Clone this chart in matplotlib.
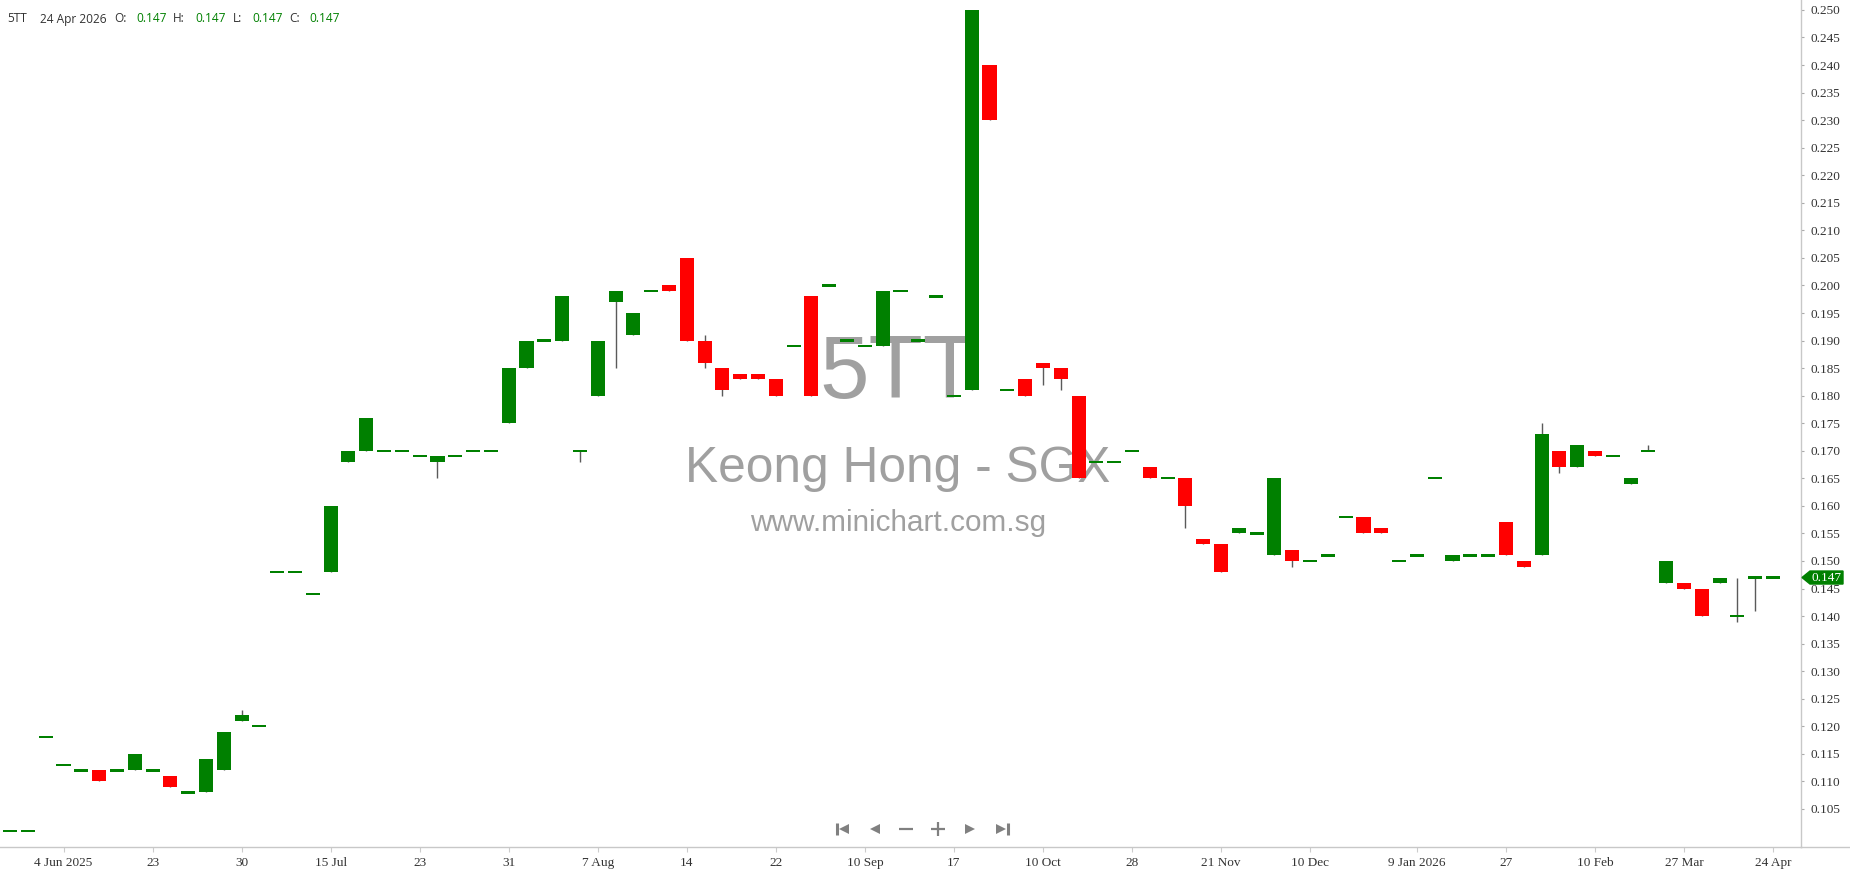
import matplotlib
matplotlib.use('Agg')
import matplotlib.pyplot as plt
from matplotlib.patches import Polygon
from matplotlib.lines import Line2D
import numpy as np

# daily OHLC, Keong Hong (5TT), one entry per traded day
opens = [0.101, 0.101, 0.118, 0.113, 0.112, 0.112, 0.112, 0.112, 0.112, 0.111,
         0.108, 0.108, 0.112, 0.121, 0.120, 0.148, 0.148, 0.144, 0.148, 0.168,
         0.170, 0.170, 0.170, 0.169, 0.168, 0.169, 0.170, 0.170, 0.175, 0.185,
         0.190, 0.190, 0.170, 0.180, 0.197, 0.191, 0.199, 0.200, 0.205, 0.190,
         0.185, 0.184, 0.184, 0.183, 0.189, 0.198, 0.200, 0.190, 0.189, 0.189,
         0.199, 0.190, 0.198, 0.180, 0.181, 0.240, 0.181, 0.183, 0.186, 0.185,
         0.180, 0.168, 0.168, 0.170, 0.167, 0.165, 0.165, 0.154, 0.153, 0.155,
         0.155, 0.151, 0.152, 0.150, 0.151, 0.158, 0.158, 0.156, 0.150, 0.151,
         0.165, 0.150, 0.151, 0.151, 0.157, 0.150, 0.151, 0.170, 0.167, 0.170,
         0.169, 0.164, 0.170, 0.146, 0.146, 0.145, 0.146, 0.140, 0.147, 0.147]
highs = [0.101, 0.101, 0.118, 0.113, 0.112, 0.112, 0.112, 0.115, 0.112, 0.111,
         0.108, 0.114, 0.119, 0.123, 0.120, 0.148, 0.148, 0.144, 0.160, 0.170,
         0.176, 0.170, 0.170, 0.169, 0.169, 0.169, 0.170, 0.170, 0.185, 0.190,
         0.190, 0.198, 0.170, 0.190, 0.199, 0.195, 0.199, 0.200, 0.205, 0.191,
         0.185, 0.184, 0.184, 0.183, 0.189, 0.198, 0.200, 0.190, 0.189, 0.199,
         0.199, 0.190, 0.198, 0.180, 0.250, 0.240, 0.181, 0.183, 0.186, 0.185,
         0.180, 0.168, 0.168, 0.170, 0.167, 0.165, 0.165, 0.154, 0.153, 0.156,
         0.155, 0.165, 0.152, 0.150, 0.151, 0.158, 0.158, 0.156, 0.150, 0.151,
         0.165, 0.151, 0.151, 0.151, 0.157, 0.150, 0.175, 0.170, 0.171, 0.170,
         0.169, 0.165, 0.171, 0.150, 0.146, 0.145, 0.147, 0.147, 0.147, 0.147]
lows = [0.101, 0.101, 0.118, 0.113, 0.112, 0.110, 0.112, 0.112, 0.112, 0.109,
        0.108, 0.108, 0.112, 0.121, 0.120, 0.148, 0.148, 0.144, 0.148, 0.168,
        0.170, 0.170, 0.170, 0.169, 0.165, 0.169, 0.170, 0.170, 0.175, 0.185,
        0.190, 0.190, 0.168, 0.180, 0.185, 0.191, 0.199, 0.199, 0.190, 0.185,
        0.180, 0.183, 0.183, 0.180, 0.189, 0.180, 0.200, 0.190, 0.189, 0.189,
        0.199, 0.190, 0.198, 0.180, 0.181, 0.230, 0.181, 0.180, 0.182, 0.181,
        0.165, 0.168, 0.168, 0.170, 0.165, 0.165, 0.156, 0.153, 0.148, 0.155,
        0.155, 0.151, 0.149, 0.150, 0.151, 0.158, 0.155, 0.155, 0.150, 0.151,
        0.165, 0.150, 0.151, 0.151, 0.151, 0.149, 0.151, 0.166, 0.167, 0.169,
        0.169, 0.164, 0.170, 0.146, 0.145, 0.140, 0.146, 0.139, 0.141, 0.147]
closes = [0.101, 0.101, 0.118, 0.113, 0.112, 0.110, 0.112, 0.115, 0.112, 0.109,
          0.108, 0.114, 0.119, 0.122, 0.120, 0.148, 0.148, 0.144, 0.160, 0.170,
          0.176, 0.170, 0.170, 0.169, 0.169, 0.169, 0.170, 0.170, 0.185, 0.190,
          0.190, 0.198, 0.170, 0.190, 0.199, 0.195, 0.199, 0.199, 0.190, 0.186,
          0.181, 0.183, 0.183, 0.180, 0.189, 0.180, 0.200, 0.190, 0.189, 0.199,
          0.199, 0.190, 0.198, 0.180, 0.250, 0.230, 0.181, 0.180, 0.185, 0.183,
          0.165, 0.168, 0.168, 0.170, 0.165, 0.165, 0.160, 0.153, 0.148, 0.156,
          0.155, 0.165, 0.150, 0.150, 0.151, 0.158, 0.155, 0.155, 0.150, 0.151,
          0.165, 0.151, 0.151, 0.151, 0.151, 0.149, 0.173, 0.167, 0.171, 0.169,
          0.169, 0.165, 0.170, 0.150, 0.145, 0.140, 0.147, 0.140, 0.147, 0.147]

tick_idx = [3, 8, 13, 18, 23, 28, 33, 38, 43, 48, 53, 58, 63, 68, 73, 79, 84, 89, 94, 99]
tick_labels = ['4 Jun 2025', '23', '30', '15 Jul', '23', '31', '7 Aug', '14', '22', '10 Sep',
               '17', '10 Oct', '28', '21 Nov', '10 Dec', '9 Jan 2026', '27', '10 Feb', '27 Mar', '24 Apr']
y_ticks = [0.105 + 0.005 * i for i in range(30)]

symbol = '5TT'
name = 'Keong Hong - SGX'
site = 'www.minichart.com.sg'
last_date = '24 Apr 2026'

W, H = 1850, 874
GREEN = '#008000'
RED = '#ff0000'
AXC = '#c8c8c8'

fig = plt.figure(figsize=(W / 100, H / 100), dpi=100)
ax_l, ax_b, ax_w, ax_h = 0, 1 - 847 / H, 1801 / W, 847 / H
ax = fig.add_axes([ax_l, ax_b, ax_w, ax_h])

ymin, ymax = 0.0981, 0.2518
ax.set_xlim(-0.567, 100.57)
ax.set_ylim(ymin, ymax)

o = np.array(opens)
c = np.array(closes)
x = np.arange(len(o))
up = c >= o
cols = np.where(up, GREEN, RED)
body_lo = np.minimum(o, c)
body_h = np.abs(c - o)
flat = body_h < 1e-9
body_lo = np.where(flat, o - 0.0002, body_lo)
body_h = np.where(flat, 0.0004, body_h)

ax.vlines(x, lows, highs, color='#5a5a5a', lw=1, zorder=2)
ax.bar(x, body_h, bottom=body_lo, width=0.79, color=cols, lw=0, zorder=3)

# watermark
wm = dict(color='#a0a0a0', family='Liberation Sans', ha='center', va='baseline',
          transform=fig.transFigure, zorder=1)
ax.text(898 / W, (H - 398) / H, symbol, fontsize=64, **wm)
ax.text(898 / W, (H - 482) / H, name, fontsize=35.7, **wm)
ax.text(898 / W, (H - 531) / H, site, fontsize=21.4, **wm)

# axes styling
for s in ['top', 'left']:
    ax.spines[s].set_visible(False)
for s in ['right', 'bottom']:
    ax.spines[s].set_color(AXC)
    ax.spines[s].set_linewidth(1)
ax.yaxis.tick_right()
ax.set_yticks(y_ticks)
ax.set_yticklabels(['%.3f' % v for v in y_ticks])
ax.set_xticks(tick_idx)
ax.set_xticklabels(tick_labels)
ax.tick_params(axis='y', direction='out', length=2.5, width=0.8, color='#aaaaaa',
               pad=4, labelsize=9.5, labelcolor='#333333')
ax.tick_params(axis='x', direction='out', length=3.6, width=0.8, color='#cccccc',
               pad=10, labelsize=9.5, labelcolor='#333333')
for lbl in ax.get_xticklabels() + ax.get_yticklabels():
    lbl.set_fontfamily('Liberation Serif')
for lbl in ax.get_xticklabels():
    lbl.set_verticalalignment('baseline')

# bottom line runs on under the price scale
fig.add_artist(Line2D([ax_w, 1], [ax_b, ax_b], color=AXC, lw=1, transform=fig.transFigure))

# last price tag
yp = ax_b + (closes[-1] - ymin) / (ymax - ymin) * ax_h
dy = 6.5 / H
tag = Polygon([(1802 / W, yp), (1810 / W, yp + dy), (1843 / W, yp + dy),
               (1843 / W, yp - dy), (1810 / W, yp - dy)], closed=True,
              facecolor=GREEN, edgecolor=GREEN, transform=fig.transFigure, zorder=5)
fig.add_artist(tag)
fig.text(1827 / W, yp, '%.3f' % closes[-1], color='white', fontsize=9.5,
         family='Liberation Serif', ha='center', va='center', zorder=6)

# header line
hy = (H - 22.5) / H
hdr = [(7, symbol, '#333333'), (40, last_date, '#333333'),
       (114, 'O:', '#333333'), (136, '%.3f' % opens[-1], GREEN),
       (173, 'H:', '#333333'), (195, '%.3f' % highs[-1], GREEN),
       (233, 'L:', '#333333'), (252, '%.3f' % lows[-1], GREEN),
       (289, 'C:', '#333333'), (309, '%.3f' % closes[-1], GREEN)]
for px, txt, col in hdr:
    fig.text(px / W, hy, txt, color=col, fontsize=8.6, family='Open Sans',
             ha='left', va='baseline')

# navigation buttons
ny = (H - 829.3) / H
NAV = '#808080'
def nav(px, marker, ms, mew=0):
    fig.add_artist(Line2D([px / W], [ny], marker=marker, ms=ms, mew=mew, color=NAV,
                          mec=NAV, mfc=NAV, ls='none', transform=fig.transFigure))
nav(836.5, '|', 8, 2.2)
nav(843.5, '<', 7.5)
nav(874.5, '<', 7.5)
nav(905.5, '_', 9.5, 1.6)
nav(937.5, '+', 9.5, 1.6)
nav(969.5, '>', 7.5)
nav(1000.5, '>', 7.5)
nav(1007.5, '|', 8, 2.2)

fig.savefig('out.png', dpi=100)
